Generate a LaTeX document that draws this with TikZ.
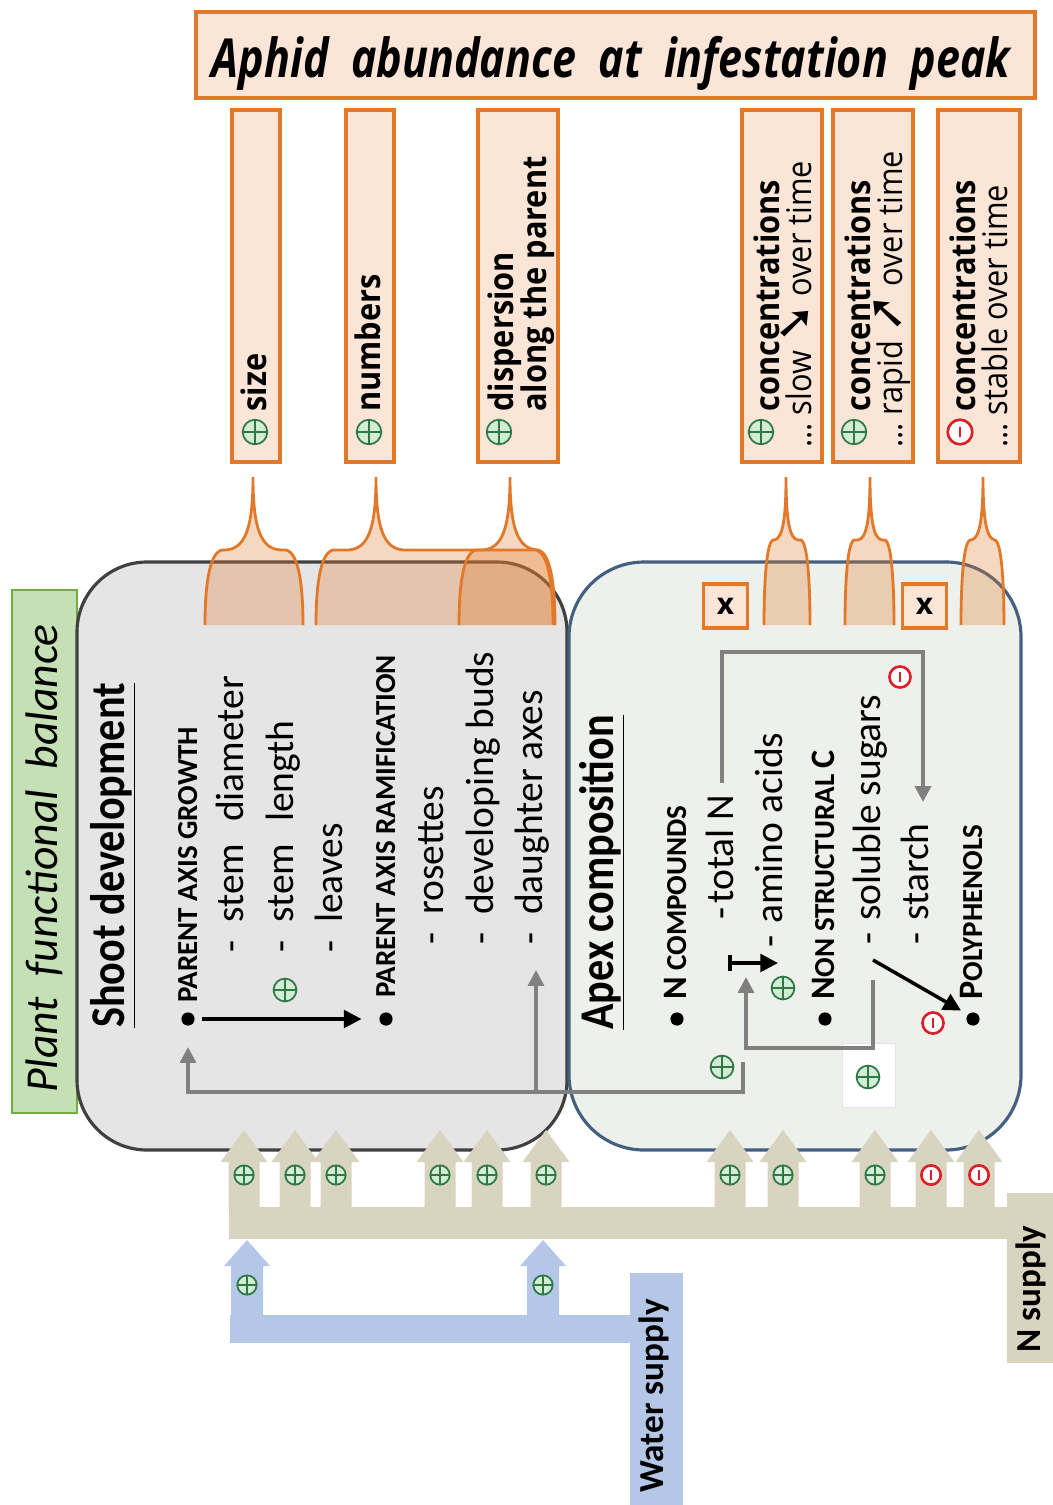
\documentclass[tikz,border=0pt]{standalone}
\usepackage{fontspec}
\setmainfont{Carlito}
\newfontfamily\effectfont{Open Sans}
\newfontfamily\arrowfont{DejaVu Sans}
\usetikzlibrary{arrows.meta}

\definecolor{aphidorange}{RGB}{226,121,42}
\definecolor{aphidfill}{RGB}{251,229,214}
\definecolor{shootgray}{RGB}{229,229,229}
\definecolor{shootline}{RGB}{64,64,64}
\definecolor{apexfill}{RGB}{238,240,235}
\definecolor{apexline}{RGB}{68,96,128}
\definecolor{plantgreen}{RGB}{197,224,180}
\definecolor{plantline}{RGB}{112,173,71}
\definecolor{nsupply}{RGB}{217,212,192}
\definecolor{wsupply}{RGB}{180,199,231}
\definecolor{plusgreen}{RGB}{46,120,70}
\definecolor{plusfill}{RGB}{210,236,214}
\definecolor{minusred}{RGB}{222,30,40}
\definecolor{linkgray}{RGB}{128,128,128}

\tikzstyle{vtext}=[rotate=90, inner sep=0pt, anchor=base west]
\tikzstyle{heading}=[vtext, yscale=1.15, font=\bfseries\fontsize{24}{28}\selectfont]
\tikzstyle{group}=[vtext, font=\bfseries\fontsize{16.5}{19}\selectfont]
\tikzstyle{item}=[vtext, font=\fontsize{22.5}{26}\selectfont]
\tikzstyle{effect}=[vtext, yscale=1.1, font=\effectfont\fontsize{17.5}{20}\selectfont]
\tikzstyle{effectbold}=[effect, font=\effectfont\bfseries\fontsize{17.5}{20}\selectfont]
\tikzstyle{supply}=[vtext, font=\bfseries\fontsize{20}{24}\selectfont]
\tikzstyle{effectbox}=[draw=aphidorange, fill=aphidfill, line width=2pt]
\tikzstyle{brace}=[draw=aphidorange, fill=aphidorange, fill opacity=0.3, line width=1.6pt]
\tikzstyle{xbox}=[draw=aphidorange, fill=aphidfill, line width=2.2pt, minimum size=0.88cm, inner sep=0pt, font=\effectfont\bfseries\fontsize{17}{20}\selectfont]
\tikzstyle{plussign}=[circle, draw=plusgreen, fill=plusfill, line width=1pt, minimum size=13pt, inner sep=0pt, path picture={\draw[plusgreen, line width=1pt] (path picture bounding box.north) -- (path picture bounding box.south) (path picture bounding box.west) -- (path picture bounding box.east);}]
\tikzstyle{smallplus}=[plussign, minimum size=11pt]
\tikzstyle{minussign}=[circle, draw=minusred, fill=white, line width=1.5pt, minimum size=12pt, inner sep=0pt, path picture={\draw[minusred, line width=1.5pt] ([yshift=-3pt]path picture bounding box.center) -- ([yshift=3pt]path picture bounding box.center);}]
\tikzstyle{bullet}=[circle, fill=black, inner sep=0pt, minimum size=7.5pt]
\tikzstyle{link}=[linkgray, line width=2pt, -{Triangle[length=9pt, width=9pt]}]
\tikzstyle{push}=[black, line width=2pt, -{Triangle[length=10pt, width=10pt]}]

\newcommand{\initcap}[1]{{\fontsize{19.5}{22}\selectfont #1}}
\newcommand{\trend}[1]{{\arrowfont\fontsize{26}{20}\selectfont #1}}
% left foot, tip, right foot, cusp half width, flare, shoulder y
\newcommand{\aphidbrace}[6]{%
  \filldraw[brace] (#1,625) .. controls (#1,590) and (#1+#5*0.2,#6+3) .. (#1+#5,#6) -- (#2-#4,#6)
    .. controls (#2-#4*0.3,#6-1) and (#2,#6-20) .. (#2,477)
    .. controls (#2,#6-20) and (#2+#4*0.3,#6-1) .. (#2+#4,#6) -- (#3-#5,#6)
    .. controls (#3-#5*0.2,#6+3) and (#3,590) .. (#3,625);}

\begin{document}
\begin{tikzpicture}[x=0.02cm, y=-0.02cm]
    \useasboundingbox (0,0) rectangle (1053,1505);

    % plant boxes
    \draw[draw=plantline, fill=plantgreen, line width=0.8pt] (12,590) rectangle (77,1113);
    \node[vtext, font=\itshape\fontsize{26}{30}\selectfont] (balance) at (57,1093) {Plant\ \ functional\ \ balance};
    \draw[draw=shootline, fill=shootgray, line width=1.8pt, rounded corners=1.4cm] (77,562) rectangle (567,1150);
    \draw[draw=apexline, fill=apexfill, line width=1.8pt, rounded corners=1.5cm] (569,562) rectangle (1021,1150);

    % shoot development
    \node[heading] (shoot) at (124,1028) {\underline{Shoot development}};
    \node[bullet] (growthdot) at (188,1019) {};
    \node[group] (growth) at (197,1003) {PARENT AXIS GROWTH};
    \node[item] (diameter) at (243,953) {-\hspace{.45em}stem\hspace{.55em}diameter};
    \node[item] (length) at (293,953) {-\hspace{.45em}stem\hspace{.55em}length};
    \node[item] (leaves) at (342,953) {-\hspace{.45em}leaves};
    \node[bullet] (ramidot) at (386,1019) {};
    \node[group] (rami) at (395,998) {PARENT AXIS RAMIFICATION};
    \node[item] (rosettes) at (443,945) {-\hspace{.45em}rosettes};
    \node[item] (buds) at (493,945) {-\hspace{.45em}developing buds};
    \node[item] (daughter) at (542,945) {-\hspace{.45em}daughter axes};
    \draw[push] ([xshift=4pt]growthdot.east) -- ([xshift=-10pt]ramidot.west);
    \node[plussign] (pgrowth) at (285,990) {};

    % apex composition
    \node[heading] (apex) at (613,1030) {\underline{Apex composition}};
    \node[bullet] (ndot) at (677,1019) {};
    \node[group] (ncomp) at (686,1000) {\initcap{N} COMPOUNDS};
    \node[item] (totaln) at (733,920) {-\hspace{.1em}total N};
    \node[item] (amino) at (782,948) {-\hspace{.3em}amino acids};
    \node[bullet] (cdot) at (825,1019) {};
    \node[group] (nonstruct) at (834,1000) {\initcap{N}ON STRUCTURAL \initcap{C}};
    \node[item] (sugars) at (880,945) {-\hspace{.3em}soluble sugars};
    \node[item] (starch) at (928,945) {-\hspace{.3em}starch};
    \node[bullet] (pdot) at (973,1019) {};
    \node[group] (poly) at (982,1000) {\initcap{P}OLYPHENOLS};
    \draw[black!10, fill=white] (842,1043) rectangle (895,1107);
    \node[plussign] (pamino) at (783,988) {};
    \node[plussign] (pshoot) at (722,1067) {};
    \node[plussign] (psugars) at (868,1077) {};
    \node[minussign] (mstarch) at (900,677) {};
    \node[minussign] (mpoly) at (933,1023) {};
    \coordinate (nstub) at (743,1062);
    \coordinate (ntop) at (722,783);
    \coordinate (sstub) at (873,980);
    \draw[link] (nstub) -- (743,1092) -| ([yshift=-12pt]growthdot.south);
    \draw[link] (536,1092) -- (536,970);
    \draw[link] (ntop) |- (923,652) -- (923,802);
    \draw[link] (sstub) |- (746,1048) -- (746,977);
    \draw[push, {Bar[width=9pt]}-{Triangle[length=10pt, width=10pt]}] (728,963) -- (778,963);
    \draw[push] (873,960) -- ([xshift=-4pt,yshift=2pt]pdot.north west);

    % links to aphid abundance
    \aphidbrace{459}{510}{555}{28}{17}{550}
    \aphidbrace{205}{253}{303}{28}{17}{550}
    \aphidbrace{316}{376}{553}{28}{17}{550}
    \aphidbrace{764}{786}{810}{12}{9}{540}
    \aphidbrace{845}{870}{894}{12}{9}{540}
    \aphidbrace{961}{983}{1004}{12}{9}{540}
    \node[xbox] (xamino) at (725.5,606) {x};
    \node[xbox] (xpoly) at (924.5,606) {x};

    % aphid abundance
    \draw[effectbox, line width=2.4pt] (196,12) rectangle (1035,98);
    \node[font=\effectfont\bfseries\itshape\fontsize{24.5}{28}\selectfont, yscale=1.25, anchor=base] (aphid) at (611,77) {Aphid\ \ abundance\ \ at\ \ infestation\ \ peak};
    \draw[effectbox] (232,110) rectangle (280,462);
    \draw[effectbox] (346,110) rectangle (394,462);
    \draw[effectbox] (478,110) rectangle (558,462);
    \draw[effectbox] (742,110) rectangle (822,462);
    \draw[effectbox] (833,110) rectangle (913,462);
    \draw[effectbox] (938,110) rectangle (1020,462);
    \node[plussign, minimum size=14pt] (psize) at (255,432) {};
    \node[effectbold] (size) at (266,412) {size};
    \node[plussign, minimum size=14pt] (pnumbers) at (369,432) {};
    \node[effectbold] (numbers) at (380,412) {numbers};
    \node[plussign, minimum size=14pt] (pdisp) at (499,432) {};
    \node[effectbold] (disp) at (513,412) {dispersion};
    \node[effectbold] (along) at (546,412) {along the parent};
    \node[plussign, minimum size=14pt] (pslow) at (761,432) {};
    \node[effectbold] (cslow) at (779,412) {concentrations};
    \node[effect] (slow) at (811,448) {...\ slow \trend{➘} over time};
    \node[plussign, minimum size=14pt] (prapid) at (854,432) {};
    \node[effectbold] (crapid) at (870,412) {concentrations};
    \node[effect] (rapid) at (902,448) {...\ rapid \trend{➚} over time};
    \node[minussign, minimum size=14pt] (mstable) at (960,432) {};
    \node[effectbold] (cstable) at (975,412) {concentrations};
    \node[effect] (stable) at (1007,448) {...\ stable over time};

    % water and N supply
    \fill[nsupply] (229,1207) rectangle (1010,1239);
    \fill[nsupply] (1007,1193) rectangle (1053,1363);
    \node[supply] (nsup) at (1040,1353) {N supply};
    \foreach \ax in {244,295,336,440,487,546,730,783,875,931,979}
        \fill[nsupply] (\ax-15.5,1210) -- (\ax-15.5,1162) -- (\ax-23.5,1162) -- (\ax,1130) -- (\ax+23.5,1162) -- (\ax+15.5,1162) -- (\ax+15.5,1210) -- cycle;
    \foreach \ax [count=\i] in {244,295,336,440,487,546,730,783,875}
        \node[smallplus] (nplus\i) at (\ax,1175) {};
    \node[minussign, minimum size=11pt] (nminus1) at (931,1175) {};
    \node[minussign, minimum size=11pt] (nminus2) at (979,1175) {};
    \fill[wsupply] (230,1315) rectangle (632,1343);
    \fill[wsupply] (630,1273) rectangle (683,1505);
    \node[supply] (water) at (663,1493) {Water supply};
    \foreach \ax in {247,543}
        \fill[wsupply] (\ax-16,1318) -- (\ax-16,1266) -- (\ax-23,1266) -- (\ax,1240) -- (\ax+23,1266) -- (\ax+16,1266) -- (\ax+16,1318) -- cycle;
    \node[smallplus] (wplus1) at (247,1285) {};
    \node[smallplus] (wplus2) at (543,1285) {};
\end{tikzpicture}
\end{document}
